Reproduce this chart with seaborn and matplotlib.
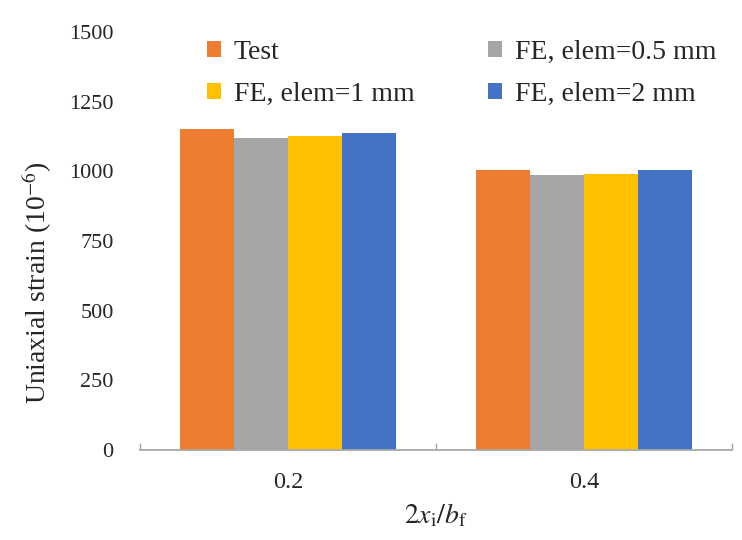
import pandas as pd
import seaborn as sns
import matplotlib.pyplot as plt
from matplotlib.ticker import FixedLocator

# Datos
ratios = ["0.2", "0.4"]
series = ["Test", "FE, elem=0.5 mm", "FE, elem=1 mm", "FE, elem=2 mm"]
test = [1152, 1004]
fe_05 = [1121, 987]
fe_1 = [1127, 992]
fe_2 = [1139, 1004]
colors = ["#ED7D31", "#A5A5A5", "#FFC000", "#4472C4"]

rows = []
for name, vals in zip(series, [test, fe_05, fe_1, fe_2]):
    for r, v in zip(ratios, vals):
        rows.append({"ratio": r, "serie": name, "strain": v})
df = pd.DataFrame(rows)

sns.set_theme(style="white")
plt.rcParams["font.family"] = ["Liberation Serif", "DejaVu Serif"]
plt.rcParams["mathtext.fontset"] = "stix"

fig = plt.figure(figsize=(7.42, 5.40), dpi=100)
ax = fig.add_axes([0.1887, 0.1667, 0.7978, 0.774])

sns.barplot(data=df, x="ratio", y="strain", hue="serie", hue_order=series,
            palette=colors, width=0.73, saturation=1, ax=ax, linewidth=0)

ax.set_xlim(-0.5, 1.5)
ax.set_ylim(0, 1500)
ax.set_yticks([0, 250, 500, 750, 1000, 1250, 1500])
ax.tick_params(axis="y", length=0, labelsize=16, pad=19)
ax.tick_params(axis="x", which="major", length=0, labelsize=17.5, pad=16)
ax.xaxis.set_minor_locator(FixedLocator([-0.5, 0.5, 1.5]))
ax.tick_params(axis="x", which="minor", bottom=True, length=5, color="#A6A6A6",
               width=1, direction="in")

for s in ["top", "right", "left"]:
    ax.spines[s].set_visible(False)
ax.spines["bottom"].set_color("#A6A6A6")
ax.grid(False)

ax.set_ylabel("Uniaxial strain (10$^{-6}$)", fontsize=20)
ax.yaxis.set_label_coords(-0.146, 0.40)
ax.set_xlabel(r"$2x_\mathrm{i}/b_\mathrm{f}$", fontsize=20, labelpad=6)

h, l = ax.get_legend_handles_labels()
order = [0, 2, 1, 3]
ax.legend([h[i] for i in order], [l[i] for i in order], ncol=2, frameon=False,
          fontsize=20, loc="upper left", bbox_to_anchor=(0.113, 0.981),
          borderpad=0, borderaxespad=0,
          handlelength=0.5, handleheight=0.5, handletextpad=0.47,
          columnspacing=2.66, labelspacing=0.62)

fig.savefig("out.png", dpi=100)
